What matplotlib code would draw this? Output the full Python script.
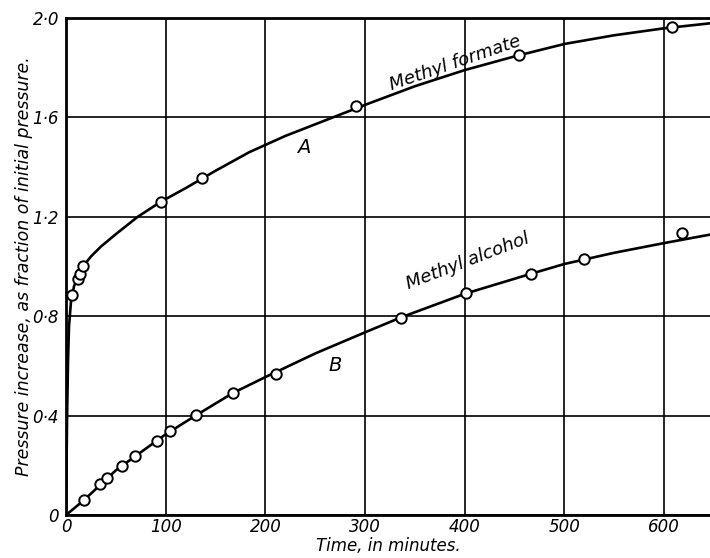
import matplotlib.pyplot as plt
from matplotlib.ticker import FixedLocator

# measured points, curve A (methyl formate)
a_t = [6, 12, 14, 17, 95, 136, 291, 454, 608]
a_p = [0.885, 0.95, 0.97, 1.0, 1.26, 1.356, 1.646, 1.851, 1.964]

# measured points, curve B (methyl alcohol)
b_t = [18, 34, 41, 56, 69, 91, 104, 130, 167, 211, 336, 401, 466, 520, 618]
b_p = [0.06, 0.125, 0.149, 0.197, 0.237, 0.298, 0.338, 0.402, 0.49, 0.567,
       0.793, 0.893, 0.970, 1.030, 1.135]

# drawn curves
a_line_t = [0, 0.5, 1, 2, 3, 5, 8, 12, 17, 25, 35, 50, 72, 95, 120, 150, 184,
            220, 268, 300, 350, 400, 450, 500, 550, 600, 646]
a_line_p = [0, 0.2, 0.38, 0.62, 0.76, 0.86, 0.92, 0.96, 1.0, 1.04, 1.08, 1.13,
            1.2, 1.26, 1.315, 1.385, 1.46, 1.525, 1.6, 1.65, 1.725, 1.79,
            1.845, 1.895, 1.93, 1.958, 1.978]

b_line_t = [0, 18, 50, 100, 130, 167, 200, 250, 300, 336, 400, 466, 500, 550,
            600, 646]
b_line_p = [0, 0.06, 0.18, 0.325, 0.40, 0.49, 0.555, 0.65, 0.735, 0.795,
            0.89, 0.97, 1.01, 1.055, 1.094, 1.128]

x_ticks = [0, 100, 200, 300, 400, 500, 600]
y_ticks = [0, 0.4, 0.8, 1.2, 1.6, 2.0]
y_labels = ['0', '0·4', '0·8', '1·2', '1·6', '2·0']

fig = plt.figure(figsize=(7.1, 5.58), dpi=100)
ax = fig.add_axes([0.093, 0.077, 0.907, 0.891])

ax.plot(a_line_t, a_line_p, color='black', lw=1.9)
ax.plot(b_line_t, b_line_p, color='black', lw=1.9)
ax.plot(a_t, a_p, 'o', mfc='white', mec='black', mew=1.4, ms=7.5)
ax.plot(b_t, b_p, 'o', mfc='white', mec='black', mew=1.4, ms=7.5)

ax.set_xlim(0, 646)
ax.set_ylim(0, 2.0)
ax.xaxis.set_major_locator(FixedLocator(x_ticks))
ax.yaxis.set_major_locator(FixedLocator(y_ticks))
ax.set_xticklabels([str(v) for v in x_ticks], fontstyle='italic', fontsize=12)
ax.set_yticklabels(y_labels, fontstyle='italic', fontsize=12)
ax.tick_params(axis='x', length=0, pad=2)
ax.tick_params(axis='y', length=0, pad=5)
ax.grid(True, color='black', lw=1.2)
ax.set_axisbelow(True)

for side in ['left', 'bottom', 'top']:
    ax.spines[side].set_linewidth(2)
ax.spines['right'].set_visible(False)

ax.set_xlabel('Time, in minutes.', fontstyle='italic', fontsize=12, labelpad=1)
ax.set_ylabel('Pressure increase, as fraction of initial pressure.',
              fontstyle='italic', fontsize=12.5, labelpad=0)

ax.text(390, 1.82, 'Methyl formate', rotation=19, fontstyle='italic',
        fontsize=13, ha='center', va='center')
ax.text(238, 1.48, 'A', fontstyle='italic', fontsize=14, ha='center', va='center')
ax.text(403, 1.02, 'Methyl alcohol', rotation=21, fontstyle='italic',
        fontsize=13, ha='center', va='center')
ax.text(270, 0.60, 'B', fontstyle='italic', fontsize=14, ha='center', va='center')

fig.savefig('out.png', dpi=100)
